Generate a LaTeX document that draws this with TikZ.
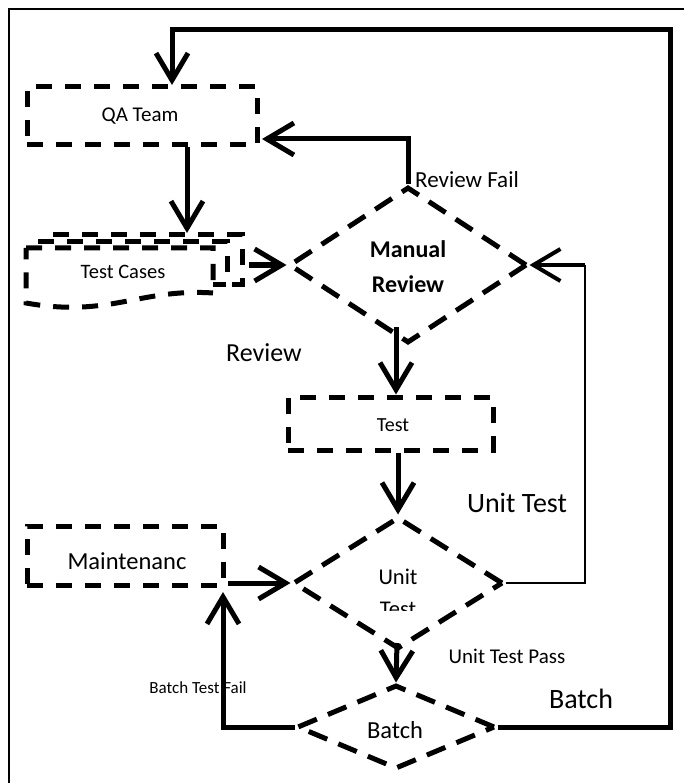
\documentclass[tikz,border=0pt]{standalone}
\usepackage{fontspec}
\setmainfont{Carlito}
\usetikzlibrary{arrows.meta,shapes.geometric}
\begin{document}
\begin{tikzpicture}[x=1pt,y=-1pt,
  dbox/.style={draw, line width=5pt, dash pattern=on 16pt off 13pt, inner sep=0pt},
  ddia/.style={draw, diamond, line width=5pt, dash pattern=on 20pt off 12pt, inner sep=0pt},
  arr/.style={line width=5pt, -{Straight Barb[length=27pt,width=32pt]}},
  thinline/.style={line width=2pt},
  lbl/.style={inner sep=0pt}]
\useasboundingbox (0,0) rectangle (684,783);
% frame
\draw[line width=2.5pt] (9,783) -- (9,9) -- (684,9);

% boxes
\node[dbox, minimum width=230pt, minimum height=58pt] (qa) at (142,116) {};
\node[lbl, font=\fontsize{21}{25}\selectfont] (qat) at (140,116) {QA Team};
\node[dbox, minimum width=205pt, minimum height=53pt] (test) at (390.5,423.5) {};
\node[lbl, font=\fontsize{20}{24}\selectfont] (testt) at (393,425) {Test};
\node[dbox, minimum width=196pt, minimum height=59pt] (mt) at (125,555.5) {};
\node[lbl, font=\fontsize{24.5}{29}\selectfont] (mtt) at (127,561) {Maintenanc};

% test cases (multi-document)
\draw[dbox] (53,235) -- (242,235) -- (242,284) -- (227,284);
\draw[dbox] (38,242) -- (227,242) -- (227,284) -- (213,284);
\draw[dbox] (26,248) -- (213,248) -- (213,293) .. controls (140,288) and (110,318) .. (26,303) -- cycle;
\node[lbl, font=\fontsize{20.5}{24}\selectfont] (tct) at (123,272) {Test Cases};
\coordinate (tctop) at (187,233);
\coordinate (tcright) at (249,265);

% diamonds
\node[ddia, minimum width=238pt, minimum height=156pt] (mr) at (408,265) {};
\node[lbl, align=center, font=\bfseries\fontsize{24}{35}\selectfont] (mrt) at (408,267) {Manual\\Review};
\node[ddia, minimum width=210pt, minimum height=132pt] (ut) at (398,583) {};
\node[lbl, font=\fontsize{22.5}{27}\selectfont] (utt1) at (398,577) {Unit};
\begin{scope}
\clip (300,595) rectangle (500,610);
\node[lbl, font=\fontsize{22.5}{27}\selectfont] (utt2) at (398,609) {Test};
\end{scope}
\node[ddia, minimum width=198pt, minimum height=84pt] (ba) at (396,727) {};
\node[lbl, font=\fontsize{24.5}{29}\selectfont] (bat) at (395,730) {Batch};

% connector helper points
\coordinate (qae) at (262,139);
\coordinate (mrs) at (396,327);
\coordinate (utr) at (585,265);
\coordinate (utc) at (585,583);
\coordinate (mtr) at (228,583);
\coordinate (uts) at (397,643);
\coordinate (bfc) at (223,727);
\coordinate (mtb) at (223,592);
\coordinate (br) at (670,727);
\coordinate (tr) at (670,30);
\coordinate (tl) at (172,30);
\coordinate (qat2) at (172,85);

% connectors
\draw[arr] (qa.south -| tctop) -- (tctop);
\draw[arr] (tcright) -- (mr.west);
\draw[arr] (mr.north) |- (qae);
\draw[arr] (mrs) -- (mrs |- test.north);
\draw[arr] (test.south -| ut.north) -- (ut.north);
\draw[thinline] (ut.east) -- (utc) -- (utr);
\draw[arr, line width=4pt] (utr) -- (mr.east);
\draw[arr] (mtr) -- (ut.west);
\draw[arr] (uts) -- (ba.north);
\draw[arr] (ba.west) -- (bfc) -- (mtb);
\draw[arr] (ba.east) -- (br) -- (tr) -- (tl) -- (qat2);

% labels
\node[lbl, font=\fontsize{23}{27}\selectfont] (lrf) at (467,180) {Review Fail};
\node[lbl, font=\fontsize{26}{30}\selectfont] (lrv) at (264,353) {Review};
\node[lbl, font=\fontsize{28}{33}\selectfont] (lut) at (517,503) {Unit Test};
\node[lbl, font=\fontsize{21}{25}\selectfont] (lutp) at (507,656) {Unit Test Pass};
\node[lbl, font=\fontsize{17}{20}\selectfont] (lbtf) at (198,688) {Batch Test Fail};
\node[lbl, font=\fontsize{28}{33}\selectfont] (lb) at (581,699) {Batch};
\end{tikzpicture}
\end{document}
